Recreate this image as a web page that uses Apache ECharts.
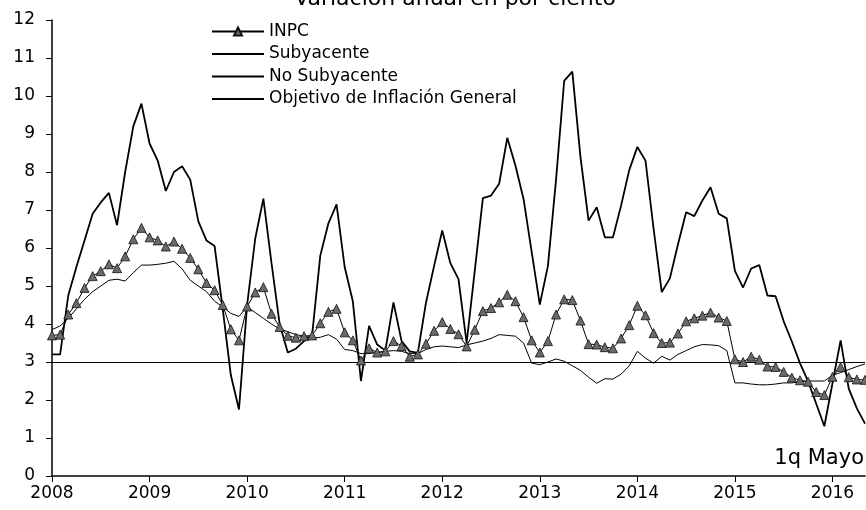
<!DOCTYPE html>
<html>
<head>
<meta charset="utf-8">
<script src="https://cdn.jsdelivr.net/npm/echarts@6/dist/echarts.min.js"></script>
<style>
  html, body { margin: 0; padding: 0; background: #fff; }
  #chart { width: 866px; height: 510px; }
</style>
</head>
<body>
<div id="chart"></div>
<script>
// meses ene 2008 - 1q may 2016
const years = [2008, 2009, 2010, 2011, 2012, 2013, 2014, 2015, 2016];
const monthNames = ['Ene', 'Feb', 'Mar', 'Abr', 'May', 'Jun', 'Jul', 'Ago', 'Sep', 'Oct', 'Nov', 'Dic'];
const months = [];
years.forEach((y) => {
  monthNames.forEach((m, k) => {
    if (y < 2016 || k < 5) months.push(m + ' ' + y);
  });
});

// variación anual en por ciento
const inpc = [
  3.70, 3.72, 4.25, 4.55, 4.95, 5.26, 5.39, 5.57, 5.47, 5.78, 6.23, 6.53,
  6.28, 6.20, 6.04, 6.17, 5.98, 5.74, 5.44, 5.08, 4.89, 4.50, 3.86, 3.57,
  4.46, 4.83, 4.97, 4.27, 3.92, 3.69, 3.64, 3.68, 3.70, 4.02, 4.32, 4.40,
  3.78, 3.57, 3.04, 3.36, 3.25, 3.28, 3.55, 3.42, 3.14, 3.20, 3.48, 3.82,
  4.05, 3.87, 3.73, 3.41, 3.85, 4.34, 4.42, 4.57, 4.77, 4.60, 4.18, 3.57,
  3.25, 3.55, 4.25, 4.65, 4.63, 4.09, 3.47, 3.46, 3.39, 3.36, 3.62, 3.97,
  4.48, 4.23, 3.76, 3.50, 3.51, 3.75, 4.07, 4.15, 4.22, 4.30, 4.17, 4.08,
  3.07, 3.00, 3.14, 3.06, 2.88, 2.87, 2.74, 2.59, 2.52, 2.48, 2.21, 2.13,
  2.61, 2.87, 2.60, 2.54, 2.53
];
const subyacente = [
  3.85, 3.95, 4.15, 4.40, 4.65, 4.85, 5.00, 5.15, 5.18, 5.13, 5.35, 5.55,
  5.55, 5.57, 5.60, 5.65, 5.45, 5.15, 5.00, 4.85, 4.60, 4.45, 4.28, 4.20,
  4.45, 4.30, 4.15, 4.00, 3.87, 3.80, 3.72, 3.68, 3.63, 3.65, 3.72, 3.60,
  3.33, 3.30, 3.22, 3.22, 3.25, 3.28, 3.30, 3.28, 3.22, 3.22, 3.33, 3.40,
  3.42, 3.40, 3.38, 3.45, 3.50, 3.55, 3.62, 3.72, 3.70, 3.68, 3.50, 2.97,
  2.93, 3.00, 3.08, 3.02, 2.90, 2.78, 2.60, 2.44, 2.56, 2.55, 2.68, 2.90,
  3.28, 3.10, 2.97, 3.15, 3.05, 3.20, 3.30, 3.40, 3.46, 3.45, 3.43, 3.30,
  2.45, 2.45, 2.42, 2.40, 2.40, 2.42, 2.45, 2.45, 2.48, 2.50, 2.50, 2.50,
  2.65, 2.72, 2.80, 2.88, 2.95
];
const noSubyacente = [
  3.20, 3.20, 4.75, 5.50, 6.20, 6.90, 7.20, 7.45, 6.60, 8.00, 9.20, 9.80,
  8.75, 8.30, 7.50, 8.00, 8.15, 7.80, 6.70, 6.20, 6.05, 4.40, 2.65, 1.75,
  4.50, 6.25, 7.30, 5.60, 4.00, 3.25, 3.35, 3.55, 3.72, 5.80, 6.65, 7.15,
  5.50, 4.60, 2.50, 3.95, 3.46, 3.30, 4.57, 3.55, 3.28, 3.24, 4.56, 5.53,
  6.46, 5.60, 5.18, 3.50, 5.40, 7.31, 7.38, 7.69, 8.90, 8.17, 7.29, 5.90,
  4.51, 5.53, 7.80, 10.40, 10.64, 8.40, 6.72, 7.07, 6.28, 6.28, 7.12, 8.05,
  8.66, 8.30, 6.50, 4.84, 5.20, 6.10, 6.94, 6.84, 7.25, 7.60, 6.90, 6.78,
  5.40, 4.96, 5.46, 5.55, 4.75, 4.73, 4.07, 3.54, 2.97, 2.49, 1.90, 1.31,
  2.44, 3.57, 2.30, 1.78, 1.38
];
const objetivo = 3;

const font = 'DejaVu Sans';
const noDot = { opacity: 0 };
const myChart = echarts.init(document.getElementById('chart'));
const option = {
  animation: false,
  backgroundColor: '#fff',
  grid: { left: 52, right: 1, top: 20, bottom: 34 },
  legend: {
    orient: 'vertical',
    left: 206,
    top: 18,
    itemWidth: 52,
    itemHeight: 10,
    itemGap: 5.5,
    textStyle: { fontFamily: font, fontSize: 17, color: '#000' },
    data: [
      { name: 'INPC' },
      { name: 'Subyacente', itemStyle: noDot },
      { name: 'No Subyacente', itemStyle: noDot },
      { name: 'Objetivo de Inflación General', itemStyle: noDot },
    ],
  },
  xAxis: {
    type: 'category',
    boundaryGap: false,
    data: months,
    axisLine: { lineStyle: { color: '#000', width: 1.6 } },
    axisTick: { interval: 11, length: 6, lineStyle: { color: '#000' } },
    axisLabel: {
      interval: 11,
      margin: 9,
      color: '#000',
      fontFamily: font,
      fontSize: 17,
      formatter: (v) => v.split(' ')[1],
    },
    splitLine: { show: false },
  },
  yAxis: {
    type: 'value',
    min: 0,
    max: 12,
    interval: 1,
    axisLine: { show: true, lineStyle: { color: '#000', width: 1.5 } },
    axisTick: { show: true, length: 6, lineStyle: { color: '#000' } },
    axisLabel: { margin: 17, color: '#000', fontFamily: font, fontSize: 17 },
    splitLine: { show: false },
  },
  series: [
    {
      name: 'INPC',
      type: 'line',
      data: inpc,
      symbol: 'triangle',
      symbolSize: 9,
      showAllSymbol: true,
      lineStyle: { color: '#000', width: 1 },
      itemStyle: { color: '#6a6a6a', borderColor: '#111', borderWidth: 0.8 },
      z: 5,
    },
    {
      name: 'Subyacente',
      type: 'line',
      data: subyacente,
      symbol: 'none',
      lineStyle: { color: '#000', width: 1 },
      itemStyle: { color: '#000' },
    },
    {
      name: 'No Subyacente',
      type: 'line',
      data: noSubyacente,
      symbol: 'none',
      lineStyle: { color: '#000', width: 1.8 },
      itemStyle: { color: '#000' },
    },
    {
      name: 'Objetivo de Inflación General',
      type: 'line',
      data: [],
      symbol: 'none',
      lineStyle: { color: '#000', width: 1 },
      itemStyle: { color: '#000' },
      markLine: {
        silent: true,
        symbol: 'none',
        label: { show: false },
        lineStyle: { color: '#000', width: 1, type: 'solid' },
        data: [{ yAxis: objetivo }],
      },
    },
  ],
  graphic: [
    {
      type: 'text',
      x: 455,
      y: 10,
      style: {
        text: 'Variación anual en por ciento',
        fontFamily: font,
        fontSize: 22,
        fill: '#000',
        align: 'center',
        verticalAlign: 'bottom',
      },
    },
    {
      type: 'text',
      x: 864,
      y: 469,
      style: {
        text: '1q Mayo',
        fontFamily: font,
        fontSize: 21,
        fill: '#000',
        align: 'right',
        verticalAlign: 'bottom',
      },
    },
  ],
};
myChart.setOption(option);
</script>
</body>
</html>
